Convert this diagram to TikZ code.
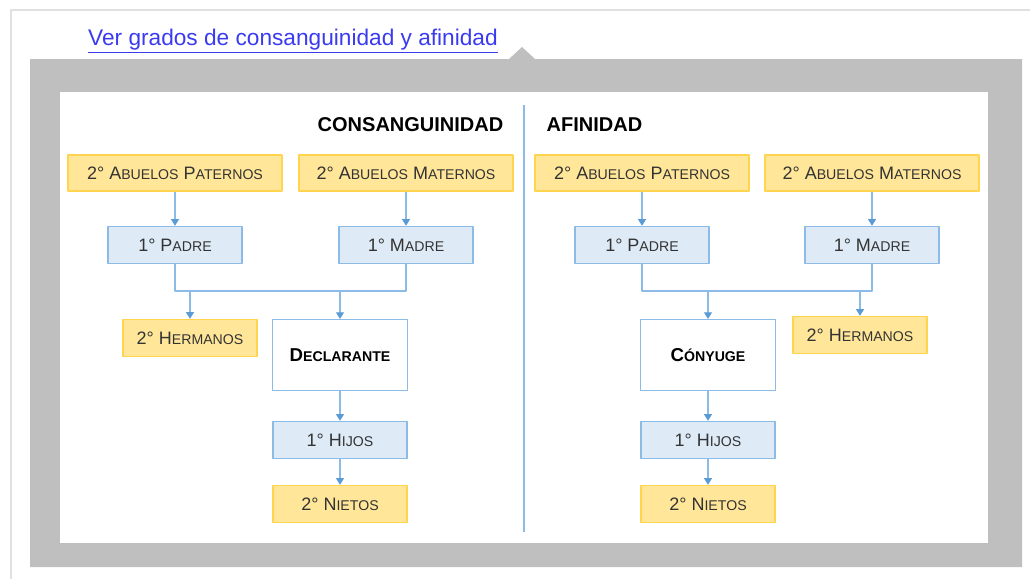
\documentclass[tikz,border=0pt]{standalone}
\usepackage{fontspec}
\setmainfont{Liberation Sans}
\usetikzlibrary{arrows.meta}
\definecolor{amarillo}{HTML}{FFE699}
\definecolor{amarilloB}{HTML}{FFD54F}
\definecolor{celeste}{HTML}{DEEBF7}
\definecolor{celesteB}{HTML}{8DBBE8}
\definecolor{flecha}{HTML}{5B9BD5}
\definecolor{enlace}{HTML}{3A3AF0}
\definecolor{gris}{HTML}{BFBFBF}
\newcommand\versal[2]{#1{\fontsize{10.6}{12}\selectfont#2}} % versalitas simuladas
\tikzset{
	caja/.style={draw, line width=1.1pt, inner sep=0pt, text=black!80, font=\fontsize{13.5}{15}\selectfont},
	cajaam/.style={caja, draw=amarilloB, fill=amarillo},
	cajace/.style={caja, draw=celesteB, fill=celeste},
	cajabl/.style={caja, draw=celesteB, fill=white, text=black, font=\bfseries\fontsize{14}{16}\selectfont},
	grande/.style={minimum width=160.5pt, minimum height=27pt},
	normal/.style={minimum width=100.5pt, minimum height=27.75pt},
	alto/.style={minimum width=101pt, minimum height=53pt},
	linea/.style={draw=celesteB, line width=0.8pt},
	flechita/.style={linea, -{Triangle[width=6pt,length=5pt,color=flecha]}}
}
\begin{document}
\begin{tikzpicture}[x=0.75pt, y=-0.75pt, line join=round]
	\useasboundingbox (0,0) rectangle (1030,579);
	% marco y fondo
	\draw[black!12, line width=1.5pt] (11,579)--(11,10)--(1030,10);
	\fill[gris] (30,59)--(509,59)--(522,47)--(535,59)--(1022,59)--(1022,567)--(30,567)--cycle;
	\fill[white] (60,92) rectangle (988,543);
	\node[text=enlace, font=\fontsize{17}{20}\selectfont] (enlace) at (293,41) {\underline{Ver grados de consanguinidad y afinidad}};
	\coordinate (divA) at (524,105); \coordinate (divB) at (524,532);
	\draw[celesteB, line width=1.5pt] (divA)--(divB);
	\node[anchor=east, font=\bfseries\fontsize{15}{18}\selectfont] (tituloC) at (508,125) {CONSANGUINIDAD};
	\node[anchor=west, font=\bfseries\fontsize{15}{18}\selectfont] (tituloA) at (542,125) {AFINIDAD};
	% abuelos y padres (ambos lados)
	\foreach \lado/\xa/\xb in {L/175/406, R/642/872}{
		\node[cajaam, grande] (abP\lado) at (\xa,173) {2° \versal{A}{BUELOS} \versal{P}{ATERNOS}};
		\node[cajaam, grande] (abM\lado) at (\xb,173) {2° \versal{A}{BUELOS} \versal{M}{ATERNOS}};
		\node[cajace, normal] (padre\lado) at (\xa,245) {1° \versal{P}{ADRE}};
		\node[cajace, normal] (madre\lado) at (\xb,245) {1° \versal{M}{ADRE}};
		\draw[flechita] (abP\lado)--(padre\lado);
		\draw[flechita] (abM\lado)--(madre\lado);
		\coordinate (union\lado) at (\xa,291);
		\draw[linea] (padre\lado.south)--(union\lado)-|(madre\lado.south);
	}
	% consanguinidad
	\node[cajaam, normal] (hermL) at (190,338) {2° \versal{H}{ERMANOS}};
	\node[cajabl, alto] (decl) at (340,355) {\versal{D}{ECLARANTE}};
	\node[cajace, normal] (hijosL) at (340,440) {1° \versal{H}{IJOS}};
	\node[cajaam, normal] (nietosL) at (340,504) {2° \versal{N}{IETOS}};
	\draw[flechita] (hermL.north |- unionL)--(hermL.north);
	\draw[flechita] (decl.north |- unionL)--(decl.north);
	\draw[flechita] (decl)--(hijosL);
	\draw[flechita] (hijosL)--(nietosL);
	% afinidad
	\node[cajaam, normal] (hermR) at (860,335) {2° \versal{H}{ERMANOS}};
	\node[cajabl, alto] (cony) at (708,355) {\versal{C}{ÓNYUGE}};
	\node[cajace, normal] (hijosR) at (708,440) {1° \versal{H}{IJOS}};
	\node[cajaam, normal] (nietosR) at (708,504) {2° \versal{N}{IETOS}};
	\draw[flechita] (hermR.north |- unionR)--(hermR.north);
	\draw[flechita] (cony.north |- unionR)--(cony.north);
	\draw[flechita] (cony)--(hijosR);
	\draw[flechita] (hijosR)--(nietosR);
\end{tikzpicture}
\end{document}
